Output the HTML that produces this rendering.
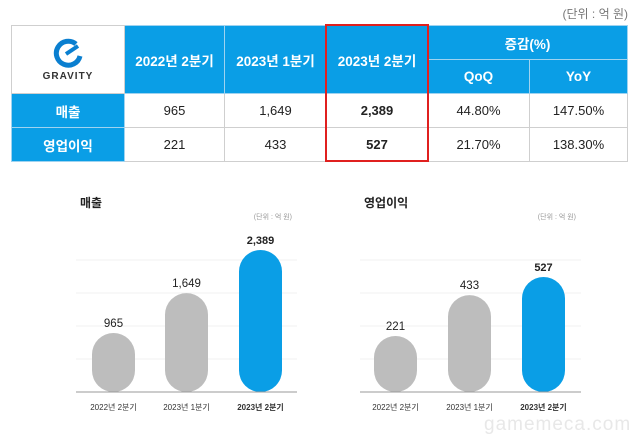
<!DOCTYPE html>
<html><head><meta charset="utf-8">
<style>
body{margin:0;width:640px;height:439px;background:#fff;overflow:hidden;font-family:"Liberation Sans","Noto Sans CJK KR",sans-serif;position:relative}
.a{position:absolute}
table{position:absolute;left:11px;top:25px;border-collapse:collapse;table-layout:fixed}
td{border:1px solid #cfcfcf;text-align:center;font-size:13px;color:#222;padding:0}
.h{background:#0a9ee6;color:#fff;font-weight:bold;font-size:13.5px;border-color:#9fd3f0}
</style></head><body>
<div class="a" style="right:12px;top:5px;font-size:12px;color:#777">(단위 : 억 원)</div>
<table>
<colgroup><col style="width:113px"><col style="width:100px"><col style="width:102px"><col style="width:101px"><col style="width:102px"><col style="width:98px"></colgroup>
<tr style="height:34px">
<td rowspan="2"><svg width="40" height="30" viewBox="0 0 40 30"><path d="M28 6 A12 12 0 1 0 32 18" fill="none" stroke="#0a7fd0" stroke-width="5"/><path d="M18 16 L30 8" stroke="#0a7fd0" stroke-width="4"/></svg><div style="font-size:10px;font-weight:bold;letter-spacing:1px;color:#333">GRAVITY</div></td>
<td rowspan="2" class="h">2022년 2분기</td><td rowspan="2" class="h">2023년 1분기</td><td rowspan="2" class="h">2023년 2분기</td>
<td colspan="2" class="h">증감(%)</td></tr>
<tr style="height:34px"><td class="h">QoQ</td><td class="h">YoY</td></tr>
<tr style="height:34px"><td class="h">매출</td><td>965</td><td>1,649</td><td style="font-weight:bold">2,389</td><td>44.80%</td><td>147.50%</td></tr>
<tr style="height:34px"><td class="h">영업이익</td><td>221</td><td>433</td><td style="font-weight:bold">527</td><td>21.70%</td><td>138.30%</td></tr>
</table>
<div class="a" style="left:325px;top:24px;width:100px;height:134px;border:2px solid #e0201f"></div>
<svg id="c" class="a" style="left:0;top:0" width="640" height="439"></svg>
<div class="a" style="left:484px;top:414px;font-size:19px;color:#e8e8e8;letter-spacing:1px">gamemeca.com</div>
<script>
const categories=["2022년 2분기","2023년 1분기","2023년 2분기"];
const revenue=[965,1649,2389];
const revenueLabels=["965","1,649","2,389"];
const profit=[221,433,527];
const profitLabels=["221","433","527"];
const svg=document.getElementById('c');
const NS='http://www.w3.org/2000/svg';
function mk(t,a){const e=document.createElementNS(NS,t);for(const k in a)e.setAttribute(k,a[k]);svg.appendChild(e);return e;}
function chart(title,x0,bx,vals,labels,d0,d1,name){
  const base=392,H=115+ (name==='rev'?27:0);
  const y=v=>base-(v-d0)/(d1-d0)*H;
  let t=mk('text',{x:x0+4,y:207,'font-size':12,'font-weight':'bold',fill:'#222'});t.textContent=title;
  
  t=mk('text',{x:x0+216,y:219,'font-size':7,fill:'#999','text-anchor':'end'});t.textContent='(단위 : 억 원)';
  
  [260,293,326,359].forEach(g=>{const l=mk('line',{x1:x0,x2:x0+221,y1:g,y2:g,stroke:'#f0f0f0'});
    });
  vals.forEach((v,i)=>{
    const top=y(v),w=43,x=bx[i];
    const r=mk('rect',{x:x,y:top,width:w,height:base-top,rx:21.5,ry:21.5,fill:i==2?'#0a9ee6':'#bdbdbd'});
    
    const l=mk('text',{x:x+w/2,y:top-6,'font-size':i==2?11:11.5,'font-weight':i==2?'bold':'normal',fill:'#222','text-anchor':'middle'});
    l.textContent=labels[i];
    const c=mk('text',{x:x+w/2,y:410,'font-size':8,'font-weight':i==2?'bold':'normal',fill:'#333','text-anchor':'middle'});
    c.textContent=categories[i];
  });
  const ax=mk('line',{x1:x0,x2:x0+221,y1:base,y2:base,stroke:'#999'});
  
}
chart('매출',76,[92,165,239],revenue,revenueLabels,-47,2389,'rev');
chart('영업이익',360,[374,448,522],profit,profitLabels,-70,527,'op');
</script>
</body></html>
